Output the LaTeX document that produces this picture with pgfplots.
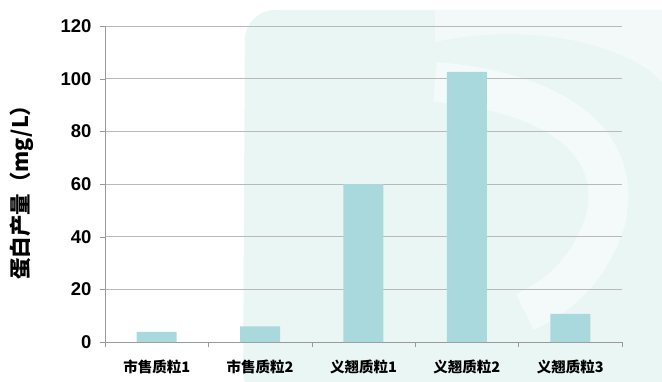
\documentclass[border=0pt]{standalone}
\usepackage{fontspec}
\setmainfont{Liberation Sans}
\newfontfamily\cjk{Noto Sans CJK SC}
\usepackage{pgfplots}
\pgfplotsset{compat=1.18}
\definecolor{barc}{RGB}{169,217,220}
\definecolor{wm}{RGB}{234,246,244}
\begin{document}
\begin{tikzpicture}[x=1pt,y=1pt]
\fill[wm, rounded corners=30pt] (138,-60) -- (140,332) -- (600,332) -- (600,-60) -- cycle;
\draw[white, opacity=0.5, line width=40pt] (330,260) .. controls (450,250) and (520,200) .. (500,120) .. controls (480,60) and (440,40) .. (420,30);
\fill[white, opacity=0.4] (330,300) .. controls (420,320) and (520,300) .. (557,260) -- (557,332) -- (330,332) -- cycle;
\begin{axis}[
  scale only axis, width=517pt, height=316pt,
  anchor=south west, at={(0,0)},
  xmin=0.5, xmax=5.5, ymin=0, ymax=120,
  ytick={0,20,...,120},
  xtick={0.5,1.5,...,5.5}, xticklabels={},
  extra x ticks={1,2,3,4,5},
  extra x tick labels={{市售质粒1},{市售质粒2},{义翘质粒1},{义翘质粒2},{义翘质粒3}},
  extra x tick style={major tick length=0pt, grid=none},
  axis x line=bottom, axis y line=left,
  axis line style={-, draw=gray!80},
  tick style={draw=gray!80},
  tick align=outside, major tick length=5pt,
  ymajorgrids, grid style={gray!55, line width=0.8pt},
  /pgf/number format/assume math mode=true,
  yticklabel style={font=\fontsize{18.5}{18}\selectfont\bfseries, xshift=-5pt},
  xticklabel style={font=\cjk\fontsize{14.5}{15}\selectfont\bfseries, yshift=-14pt},
  ylabel={\cjk\bfseries 蛋白产量（mg/L）},
  ylabel style={font=\fontsize{21.5}{21}\selectfont, at={(axis description cs:0,0.49)}, anchor=center, yshift=83pt},
  ybar, bar width=40pt,
]
\addplot[fill=barc, draw=none] coordinates {(1,3.8) (2,5.9) (3,60) (4,102.6) (5,10.7)};
\end{axis}
\pgfresetboundingbox
\useasboundingbox (-105,-39) rectangle (557,342);
\end{tikzpicture}
\end{document}
